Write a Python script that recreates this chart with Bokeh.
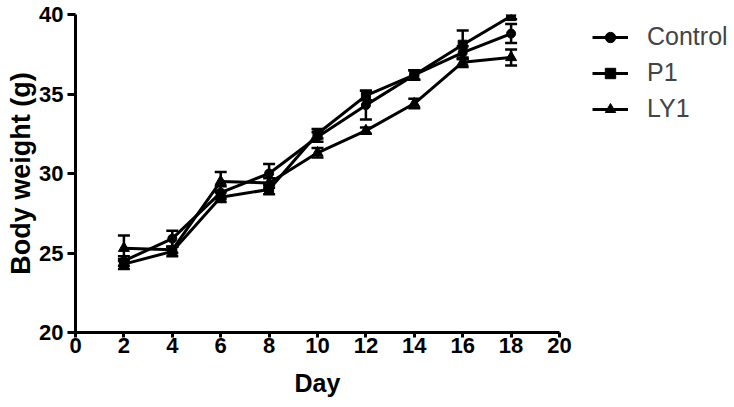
from bokeh.plotting import figure
from bokeh.models import ColumnDataSource, Whisker, Legend, LegendItem, FixedTicker, Range1d, Title
from bokeh.embed import file_html
from bokeh.resources import INLINE

days = [2, 4, 6, 8, 10, 12, 14, 16, 18]
control = [24.5, 25.9, 28.8, 30.0, 32.3, 34.3, 36.2, 37.6, 38.8]
control_err = [0.3, 0.5, 0.4, 0.6, 0.3, 0.9, 0.3, 0.4, 0.6]
p1 = [24.3, 25.1, 28.5, 29.0, 32.5, 34.9, 36.2, 38.1, 39.9]
p1_err = [0.3, 0.3, 0.3, 0.3, 0.3, 0.3, 0.3, 0.9, 0.2]
ly1 = [25.3, 25.2, 29.5, 29.4, 31.3, 32.7, 34.4, 37.0, 37.3]
ly1_err = [0.8, 0.2, 0.6, 0.3, 0.3, 0.2, 0.3, 0.3, 0.5]

x_ticks = list(range(0, 21, 2))
y_ticks = [20, 25, 30, 35, 40]

W, H = 734, 407
LEFT, AXIS_RIGHT, TOP, BOTTOM = 75, 559, 14, 332
# frame extends to the right edge so the legend fits inside; axis drawn only 0..20
x_end = 20 * (W - LEFT) / (AXIS_RIGHT - LEFT)

p = figure(width=W, height=H, output_backend="svg", toolbar_location=None,
           x_range=Range1d(0, x_end), y_range=Range1d(20, 40),
           min_border_left=LEFT, min_border_right=0, min_border_top=TOP,
           min_border_bottom=H - BOTTOM)
p.outline_line_color = None
p.grid.visible = False

series = [("Control", control, control_err, "circle", 9),
          ("P1", p1, p1_err, "square", 9),
          ("LY1", ly1, ly1_err, "triangle", 11)]
items = []
for name, vals, err, marker, size in series:
    src = ColumnDataSource(dict(x=days, y=vals,
                                lo=[v - e for v, e in zip(vals, err)],
                                hi=[v + e for v, e in zip(vals, err)]))
    w = Whisker(source=src, base="x", upper="hi", lower="lo", line_color="black", line_width=2.5)
    w.upper_head.size = 12
    w.lower_head.size = 12
    w.upper_head.line_width = 2.5
    w.lower_head.line_width = 2.5
    p.add_layout(w)
    r1 = p.line("x", "y", source=src, line_color="black", line_width=3)
    r2 = p.scatter("x", "y", source=src, marker=marker, size=size, color="black")
    items.append(LegendItem(label=name, renderers=[r1, r2]))

legend = Legend(items=items, location=(592 - LEFT, BOTTOM - 123), label_text_font="Liberation Sans",
                label_text_font_size="25px", label_standoff=19, glyph_width=36,
                glyph_height=26, label_height=26, spacing=7, border_line_color=None,
                background_fill_alpha=0, margin=0, padding=0)
p.add_layout(legend)

for ax in (p.xaxis[0], p.yaxis[0]):
    ax.axis_line_width = 3
    ax.major_tick_line_width = 3
    ax.major_tick_in = 0
    ax.minor_tick_line_color = None
    ax.major_label_text_font = "Liberation Sans"
    ax.major_label_text_font_style = "bold"
    ax.major_label_text_font_size = "22px"
    ax.major_label_text_color = "black"
    ax.axis_label_text_font = "Liberation Sans"
    ax.axis_label_text_font_style = "bold"
    ax.axis_label_text_color = "black"
    ax.axis_line_color = "black"
    ax.major_tick_line_color = "black"

p.xaxis.bounds = (0, 20)
p.xaxis.major_tick_out = 5
p.yaxis.major_tick_out = 8
p.yaxis.axis_label_text_font_size = "27px"
p.xaxis.ticker = FixedTicker(ticks=x_ticks)
p.yaxis.ticker = FixedTicker(ticks=y_ticks)
p.yaxis.axis_label = "Body weight (g)"
p.xaxis.major_label_standoff = 0
p.yaxis.major_label_standoff = 4
p.yaxis.axis_label_standoff = 0

# x-axis label centred under the 0..20 axis (frame extends further right for the legend)
day_title = Title(text="Day", align="left", offset=(AXIS_RIGHT + LEFT) / 2 - LEFT - 23,
                  text_font="Liberation Sans", text_font_style="bold",
                  text_font_size="25px", text_color="black", standoff=22)
p.add_layout(day_title, "below")

open("out.html", "w").write(file_html(p, INLINE))
